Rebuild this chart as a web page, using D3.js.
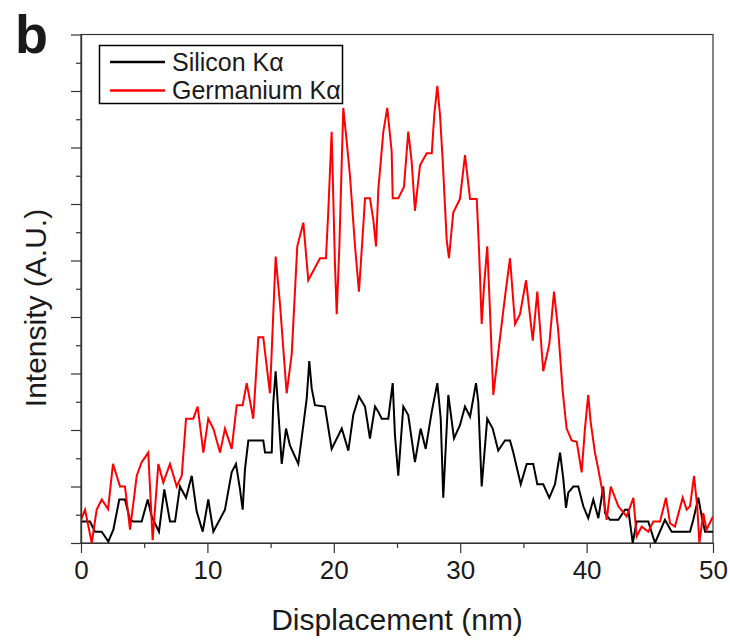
<!DOCTYPE html>
<html>
<head>
<meta charset="utf-8">
<script src="https://cdn.jsdelivr.net/npm/d3@7"></script>
<style>
  body { margin: 0; background: #fff; }
  text { font-family: "Liberation Sans", Arial, sans-serif; fill: #1a1a1a; }
</style>
</head>
<body>
<div id="chart"></div>
<script>
// Data (displacement in nm, intensity in arbitrary units)
const siX = [0, 0.71, 1.11, 1.64, 2.16, 2.56, 3.03, 3.48, 3.88, 4.14, 4.8, 5.28, 5.59, 6.17, 6.59, 7.04, 7.44, 7.83, 8.31, 8.76,
  9.15, 9.63, 10.07, 10.47, 11.39, 11.92, 12.26, 12.58, 12.79, 12.97, 13.24, 14.42, 14.56, 15.09, 15.21, 15.4, 15.61, 15.88, 16.22, 16.53,
  17.19, 17.59, 17.86, 18.06, 18.25, 18.51, 19.3, 19.83, 20.63, 21.15, 21.54, 21.99, 22.47, 22.86, 23.26, 23.52, 23.79, 24.31, 24.66, 24.84,
  25.1, 25.5, 25.89, 26.42, 26.87, 27.27, 27.75, 28.19, 28.46, 28.66, 29.06, 29.51, 29.98, 30.38, 30.78, 31.25, 31.43, 31.7, 32.14, 32.57,
  33.01, 33.54, 33.94, 34.2, 34.79, 35.26, 35.78, 36.1, 36.57, 37.05, 37.5, 37.9, 38.16, 38.37, 38.55, 38.95, 39.34, 39.74, 40.13, 40.53,
  40.93, 41.32, 41.46, 41.85, 42.51, 43.04, 43.3, 43.65, 43.96, 44.88, 45.41, 46.2, 46.73, 48.18, 48.44, 48.84, 49.11, 49.37, 50]
const siY = [0.76, 0.76, 0.4, 0.4, 0.05, 0.47, 1.54, 1.54, 0.82, 0.76, 0.76, 1.54, 0.94, 0.4, 1.9, 0.76, 0.76, 2.0, 1.6, 2.38,
  1.12, 0.4, 1.54, 0.4, 1.18, 2.5, 2.8, 1.9, 1.18, 2.6, 3.63, 3.63, 3.2, 3.2, 4.95, 6.08, 4.65, 2.8, 4.05, 3.45,
  2.8, 4.17, 5.13, 6.44, 5.48, 4.88, 4.83, 3.33, 4.05, 3.27, 4.53, 5.19, 4.83, 3.7, 4.83, 4.65, 4.4, 4.4, 5.66, 3.81,
  2.38, 4.83, 4.53, 2.86, 4.05, 3.33, 4.65, 5.66, 4.4, 1.6, 5.24, 3.7, 4.17, 4.83, 4.47, 5.66, 5.0, 2.0, 4.4, 4.05,
  3.27, 3.63, 3.63, 3.2, 2.08, 2.8, 2.8, 2.08, 2.08, 1.6, 2.08, 3.2, 2.26, 1.24, 1.78, 2.0, 2.0, 1.3, 0.88, 1.54,
  0.88, 2.0, 1.06, 0.82, 0.82, 1.18, 1.18, 0, 0.76, 0.76, 0, 0.82, 0.4, 0.4, 0.82, 1.6, 0.94, 0.4, 0.4]

const geX = [0, 0.32, 0.85, 1.24, 1.64, 2.14, 2.53, 3.09, 3.48, 3.88, 4.41, 4.8, 5.32, 5.67, 6.12, 6.51, 7.04, 7.57, 7.97, 8.31,
  8.88, 9.23, 9.68, 10.07, 10.47, 11.0, 11.39, 11.92, 12.32, 12.79, 13.11, 13.63, 14.03, 14.42, 14.95, 15.4, 15.74, 16.27, 16.67, 17.11,
  17.59, 17.98, 18.91, 19.38, 19.56, 19.83, 20.09, 20.23, 20.44, 20.75, 20.97, 21.28, 21.68, 21.99, 22.33, 22.47, 22.86, 23.12, 23.34, 23.52,
  23.92, 24.23, 24.58, 24.66, 25.1, 25.55, 25.89, 26.16, 26.42, 26.82, 27.35, 27.75, 27.95, 28.19, 28.4, 28.62, 28.93, 29.11, 29.45, 29.98,
  30.38, 30.78, 31.31, 31.49, 31.7, 31.88, 32.14, 32.3, 32.62, 33.09, 33.54, 33.94, 34.34, 34.73, 35.21, 35.74, 36.1, 36.57, 37.05, 37.42,
  37.76, 38.11, 38.42, 38.82, 39.22, 39.61, 39.87, 40.13, 40.32, 40.66, 40.93, 41.32, 41.59, 41.91, 42.51, 43.17, 43.7, 43.96, 44.36, 44.88,
  45.28, 45.81, 46.28, 46.6, 46.99, 47.6, 47.92, 48.18, 48.5, 48.76, 48.92, 49.23, 49.49, 50]
const geY = [0.82, 1.18, 0, 1.18, 1.54, 1.2, 2.8, 2.0, 2.0, 0.47, 2.38, 2.86, 3.2, 0.1, 2.8, 2.14, 2.8, 2.0, 2.38, 4.4,
  4.4, 4.83, 3.2, 4.4, 4.05, 3.2, 4.05, 3.33, 4.88, 4.88, 5.66, 4.4, 7.28, 7.28, 5.3, 10.14, 8.47, 5.3, 6.68, 10.5,
  11.34, 9.3, 10.08, 10.08, 11.7, 14.56, 9.9, 8.1, 10.5, 15.4, 14.44, 13.0, 10.5, 8.9, 11.2, 12.2, 12.2, 11.46, 10.5, 12.5,
  14.56, 15.4, 13.85, 12.2, 12.2, 12.6, 14.56, 13.5, 11.76, 13.37, 13.8, 13.8, 15.16, 16.18, 15.16, 13.5, 10.74, 10.08, 11.7, 12.18,
  13.73, 12.18, 12.18, 10.38, 7.75, 9.07, 10.5, 8.83, 5.24, 7.04, 8.7, 10.08, 7.75, 8.1, 9.3, 7.16, 8.9, 6.08, 7.04, 8.9,
  7.5, 5.37, 4.05, 3.63, 3.58, 2.5, 4.05, 5.24, 4.29, 3.2, 2.6, 1.66, 0.82, 2.0, 1.3, 0.94, 1.6, 0.23, 0.58, 0.4,
  0.76, 0.76, 1.6, 0.7, 0.58, 1.6, 1.18, 1.3, 2.38, 1.24, 0, 1.06, 0.47, 0.94]

const xMajor = [0, 10, 20, 30, 40, 50]
const xMinor = [5, 15, 25, 35, 45]
const yMajor = [0, 2, 4, 6, 8, 10, 12, 14, 16, 18]
const yMinor = [1, 3, 5, 7, 9, 11, 13, 15, 17]

const seriesNames = ['Silicon K\u03B1', 'Germanium K\u03B1']
const seriesColors = ['#000000', '#ff0000']

// Dimensions
const dimensions = {
  width: 730,
  height: 643,
  left: 81,
  right: 713,
  top: 34.5,
  bottom: 543,
}

const svg = d3.select('#chart')
  .append('svg')
  .attr('width', dimensions.width)
  .attr('height', dimensions.height)

// Scales
const xScale = d3.scaleLinear()
  .domain([0, 50])
  .range([dimensions.left, dimensions.right])

const yScale = d3.scaleLinear()
  .domain([0, 18])
  .range([dimensions.bottom, dimensions.top])

svg.append('clipPath')
  .attr('id', 'plot-clip')
  .append('rect')
  .attr('x', dimensions.left)
  .attr('y', dimensions.top - 2)
  .attr('width', dimensions.right - dimensions.left)
  .attr('height', dimensions.bottom - dimensions.top + 2)

// Frame
svg.append('rect')
  .attr('x', dimensions.left)
  .attr('y', dimensions.top)
  .attr('width', dimensions.right - dimensions.left)
  .attr('height', dimensions.bottom - dimensions.top)
  .attr('fill', 'none')
  .attr('stroke', '#333')
  .attr('stroke-width', 1.2)

// Lines
const lineGen = d3.line()
  .x(d => xScale(d[0]))
  .y(d => yScale(d[1]))

const series = [
  d3.zip(siX, siY),
  d3.zip(geX, geY),
]

svg.append('g')
  .attr('clip-path', 'url(#plot-clip)')
  .selectAll('path')
  .data(series)
  .join('path')
  .attr('d', lineGen)
  .attr('fill', 'none')
  .attr('stroke', (d, i) => seriesColors[i])
  .attr('stroke-width', 2)
  .attr('stroke-linejoin', 'miter')

// Axes
const xAxisGroup = svg.append('g')
  .attr('transform', `translate(0, ${dimensions.bottom})`)
  .call(d3.axisBottom(xScale).tickValues(xMajor).tickSize(10).tickSizeOuter(0).tickPadding(8))
svg.append('g')
  .attr('transform', `translate(0, ${dimensions.bottom})`)
  .call(d3.axisBottom(xScale).tickValues(xMinor).tickSize(5).tickSizeOuter(0).tickFormat(''))

const yAxisGroup = svg.append('g')
  .attr('transform', `translate(${dimensions.left}, 0)`)
  .call(d3.axisLeft(yScale).tickValues(yMajor).tickSize(10).tickSizeOuter(0).tickFormat(''))
svg.append('g')
  .attr('transform', `translate(${dimensions.left}, 0)`)
  .call(d3.axisLeft(yScale).tickValues(yMinor).tickSize(5).tickSizeOuter(0).tickFormat(''))

svg.selectAll('.domain').attr('stroke', '#333').attr('stroke-width', 1.2)
svg.selectAll('.tick line').attr('stroke', '#333').attr('stroke-width', 1.2)
xAxisGroup.selectAll('.tick text')
  .attr('font-size', 26)
  .attr('font-family', '"Liberation Sans", Arial, sans-serif')
  .attr('fill', '#1a1a1a')

// Axis titles
svg.append('text')
  .attr('x', (dimensions.left + dimensions.right) / 2)
  .attr('y', 630)
  .attr('text-anchor', 'middle')
  .attr('font-size', 30)
  .text('Displacement (nm)')

svg.append('text')
  .attr('transform', `translate(46, 308) rotate(-90)`)
  .attr('text-anchor', 'middle')
  .attr('font-size', 30)
  .text('Intensity (A.U.)')

// Panel label
svg.append('text')
  .attr('x', 15)
  .attr('y', 53)
  .attr('font-size', 54)
  .attr('font-weight', 'bold')
  .attr('fill', '#000')
  .text('b')

// Legend
const legend = svg.append('g')
legend.append('rect')
  .attr('x', 99.5)
  .attr('y', 45.5)
  .attr('width', 243)
  .attr('height', 58)
  .attr('fill', '#fff')
  .attr('stroke', '#000')
  .attr('stroke-width', 1.5)

const rows = legend.selectAll('g.row')
  .data(seriesNames)
  .join('g')
  .attr('class', 'row')
  .attr('transform', (d, i) => `translate(0, ${62 + i * 28.5})`)

rows.append('line')
  .attr('x1', 110)
  .attr('x2', 165)
  .attr('stroke', (d, i) => seriesColors[i])
  .attr('stroke-width', 2.5)

rows.append('text')
  .attr('x', 172)
  .attr('y', 8.5)
  .attr('font-size', 25)
  .text(d => d)
</script>
</body>
</html>
